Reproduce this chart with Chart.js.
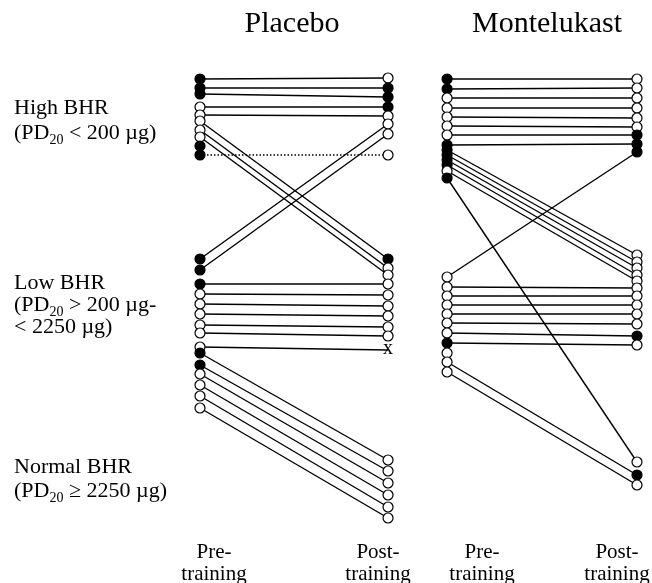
<!DOCTYPE html>
<html>
<head>
<meta charset="utf-8">
<script src="https://cdn.jsdelivr.net/npm/chart.js@4/dist/chart.umd.min.js"></script>
<style>
  html, body { margin: 0; padding: 0; background: #fff; }
  #wrap { width: 652px; height: 583px; }
</style>
</head>
<body>
<div id="wrap"><canvas id="c" width="652" height="583"></canvas></div>
<script>
// Vertical position of each subject's PD20 rank (0 = top of plot, grows downward).
// Pre = pre-training, Post = post-training; null = no post-training value.
const placeboPre  = [79, 88, 94, 107, 115, 121, 130, 137, 146, 155,
                     259, 270, 284, 294, 304, 314, 325, 333, 347,
                     353, 365, 374, 385, 396, 408];
const placeboPost = [78, 88, 97, 107, 116, 259, 268, 275, null, 155,
                     124, 134, 284, 295, 306, 316, 327, 336, 350,
                     460, 471, 483, 495, 507, 518];
// Marker type: 'f' filled circle, 'o' open circle, 'x' withdrawn
const placeboPreMark  = ['f','f','f','o','o','o','o','o','f','f',
                         'f','f','f','o','o','o','o','o','o',
                         'f','f','o','o','o','o'];
const placeboPostMark = ['o','f','f','f','o','f','o','o',null,'o',
                         'o','o','o','o','o','o','o','o','x',
                         'o','o','o','o','o','o'];
const placeboDotted = [9];

const montePre  = [79, 89, 98, 108, 117, 126, 135, 145, 150, 155, 160, 165, 171, 178,
                   277, 287, 296, 305, 314, 323, 333, 343,
                   353, 362, 372];
const montePost = [79, 88, 98, 108, 118, 127, 135, 144, 255, 262, 268, 275, 281, 462,
                   152, 288, 296, 305, 314, 324, 336, 345,
                   null, 475, 485];
const montePreMark  = ['f','f','o','o','o','o','o','f','f','f','f','f','o','f',
                       'o','o','o','o','o','o','o','f',
                       'o','o','o'];
const montePostMark = ['o','o','o','o','o','o','f','f','o','o','o','o','o','o',
                       'f','o','o','o','o','o','f','o',
                       null,'f','o'];
const monteDotted = [];

// Labels under each column
const columnLabels = [['Pre-', 'training'], ['Post-', 'training'], ['Pre-', 'training'], ['Post-', 'training']];
const panelTitles = ['Placebo', 'Montelukast'];
const groupLabels = [
  [['High BHR'], [['(PD'], ['20', 1], [' < 200 µg)']]],
  [['Low BHR'], [['(PD'], ['20', 1], [' > 200 µg-']], [['< 2250 µg)']]],
  [['Normal BHR'], [['(PD'], ['20', 1], [' ≥ 2250 µg)']]]
];

const SERIF = '"Liberation Serif", "Times New Roman", serif';
const PANEL_X = [[0, 1], [1.314, 2.324]];

function buildPanel(pre, post, preMark, postMark, dotted, xs) {
  const lines = [];
  pre.forEach((y0, i) => {
    if (post[i] === null) return;
    lines.push({
      type: 'scatter',
      data: [{ x: xs[0], y: y0 }, { x: xs[1], y: post[i] }],
      showLine: true,
      borderColor: '#000',
      borderWidth: 1.4,
      borderDash: dotted.includes(i) ? [1.5, 2] : [],
      pointRadius: 0,
      clip: false,
      order: 2
    });
  });
  const prePts = pre.map((y) => ({ x: xs[0], y }));
  const postIdx = post.map((y, i) => i).filter(i => post[i] !== null && (postMark[i] === 'o' || postMark[i] === 'f'));
  const points = {
    type: 'scatter',
    data: prePts.concat(postIdx.map(i => ({ x: xs[1], y: post[i] }))),
    pointRadius: 5,
    pointBorderWidth: 1.2,
    pointBorderColor: '#000',
    pointBackgroundColor: preMark.map(m => m === 'f' ? '#000' : '#fff')
      .concat(postIdx.map(i => postMark[i] === 'f' ? '#000' : '#fff')),
    showLine: false,
    clip: false,
    order: 1
  };
  return lines.concat([points]);
}

const datasets = buildPanel(placeboPre, placeboPost, placeboPreMark, placeboPostMark, placeboDotted, PANEL_X[0])
  .concat(buildPanel(montePre, montePost, montePreMark, montePostMark, monteDotted, PANEL_X[1]));

function drawRich(ctx, parts, x, y, size) {
  let cx = x;
  parts.forEach(p => {
    const sub = p[1] === 1;
    ctx.font = (sub ? Math.round(size * 0.62) : size) + 'px ' + SERIF;
    ctx.fillText(p[0], cx, sub ? y + size * 0.22 : y);
    cx += ctx.measureText(p[0]).width;
  });
}

const textPlugin = {
  id: 'texts',
  afterDraw(chart) {
    const ctx = chart.ctx;
    const xs = chart.scales.x, ys = chart.scales.y;
    ctx.save();
    ctx.fillStyle = '#000';
    ctx.textBaseline = 'alphabetic';

    // Panel titles
    ctx.font = '30px ' + SERIF;
    ctx.textAlign = 'center';
    ctx.fillText(panelTitles[0], 292, 32);
    ctx.fillText(panelTitles[1], 547, 32);

    // Group labels on the left
    ctx.textAlign = 'left';
    const baselines = [[114, 139], [289, 311, 333], [473, 497]];
    groupLabels.forEach((g, gi) => {
      g.forEach((line, li) => {
        const parts = typeof line[0] === 'string' ? [line] : line;
        drawRich(ctx, parts, 14, baselines[gi][li], 22);
      });
    });

    // Column labels
    ctx.textAlign = 'center';
    ctx.font = '21px ' + SERIF;
    const labelX = [214, 378, 482, 617];
    columnLabels.forEach((lab, i) => {
      ctx.fillText(lab[0], labelX[i], 558);
      ctx.fillText(lab[1], labelX[i], 580);
    });

    // Withdrawn subjects marked with an x
    ctx.font = '20px ' + SERIF;
    ctx.textBaseline = 'middle';
    [[placeboPost, placeboPostMark, PANEL_X[0]], [montePost, montePostMark, PANEL_X[1]]].forEach(([post, mark, px]) => {
      post.forEach((y, i) => {
        if (mark[i] === 'x') ctx.fillText('x', xs.getPixelForValue(px[1]), ys.getPixelForValue(y) - 1);
      });
    });
    ctx.restore();
  }
};

new Chart(document.getElementById('c'), {
  type: 'scatter',
  data: { datasets },
  options: {
    responsive: false,
    animation: false,
    events: [],
    layout: { padding: { left: 200, right: 15, top: 60, bottom: 43 } },
    plugins: { legend: { display: false }, tooltip: { enabled: false } },
    scales: {
      x: { type: 'linear', display: false, min: 0, max: 2.324 },
      y: { type: 'linear', display: false, min: 60, max: 540, reverse: true }
    }
  },
  plugins: [textPlugin]
});
</script>
</body>
</html>
